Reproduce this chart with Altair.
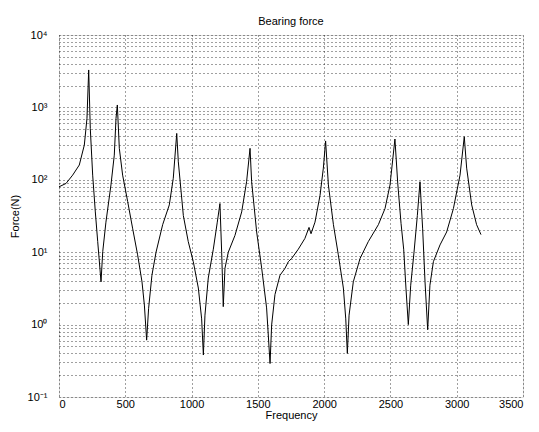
import altair as alt
import pandas as pd

# Data
freq = [0, 53, 103, 153, 191, 211, 224, 236, 254, 274, 292, 317, 330, 354, 392, 417, 430, 440,
        455, 480, 518, 556, 593, 626, 644, 661, 676, 701, 732, 782, 832, 862, 888, 900, 938,
        975, 1013, 1051, 1076, 1089, 1101, 1126, 1164, 1194, 1214, 1227, 1239, 1252, 1277,
        1327, 1378, 1415, 1441, 1453, 1491, 1529, 1566, 1592, 1604, 1629, 1667, 1705, 1730,
        1755, 1805, 1855, 1886, 1901, 1931, 1969, 1994, 2011, 2032, 2070, 2107, 2145, 2163,
        2175, 2188, 2220, 2271, 2333, 2409, 2459, 2497, 2534, 2555, 2580, 2600, 2617, 2635,
        2653, 2678, 2703, 2723, 2743, 2761, 2781, 2798, 2824, 2874, 2924, 2975, 3025, 3057,
        3075, 3113, 3150, 3183]
force = [80, 89, 116, 160, 302, 706, 3290, 513, 116, 36, 14, 3.9, 10.2, 26, 85, 219, 706, 1080,
         272, 116, 50, 21, 9.2, 3.9, 1.86, 0.61, 1.68, 4.8, 10, 24, 45, 105, 437, 177, 32,
         14, 7.4, 3.2, 1.2, 0.38, 1.35, 4.4, 11, 26, 47, 10, 1.77, 6, 10,
         17, 36, 94, 272, 94, 19, 6, 1.7, 0.29, 0.99, 2.6, 4.8, 6, 7.4,
         8.2, 11, 15.5, 22, 18, 26, 61, 145, 344, 85, 24, 9.2, 3.2, 1.2,
         0.40, 1.35, 3.9, 8.2, 14, 24, 40, 85, 366, 90, 25, 11, 3.2, 1.0,
         3.5, 10, 32, 94, 21, 3.9, 0.85, 3.5, 7.4, 12.6, 19, 40, 116, 394,
         145, 45, 24, 17.5]

x_ticks = [0, 500, 1000, 1500, 2000, 2500, 3000, 3500]
decades = [0.1, 1, 10, 100, 1000, 10000]
decade_labels = ["10⁻¹", "10⁰", "10¹", "10²", "10³", "10⁴"]
y_grid_values = [m * d for d in decades[:-1] for m in range(1, 10)] + [10000]

df = pd.DataFrame({"Frequency": freq, "Force": force})

label_expr = " : ".join(
    [f"abs(datum.value - {d}) < {d} * 1e-6 ? '{lab}'" for d, lab in zip(decades, decade_labels)]
) + " : ''"

FONT = "Liberation Sans"

chart = alt.Chart(df).mark_line(color="black", strokeWidth=1, clip=True).encode(
    x=alt.X("Frequency:Q",
            scale=alt.Scale(domain=[0, 3500], nice=False, zero=False),
            axis=alt.Axis(values=x_ticks, title="Frequency", grid=True,
                          gridDash=[1, 3], gridColor="#000", gridOpacity=0.75,
                          ticks=False, labelPadding=1, labelFontSize=11,
                          titleFontSize=11, titleFontWeight="normal", titlePadding=0,
                          labelFont=FONT, titleFont=FONT, labelColor="#000",
                          titleColor="#000", domain=False, format="d",
                          labelOverlap=False)),
    y=alt.Y("Force:Q",
            scale=alt.Scale(type="log", domain=[0.1, 10000], nice=False),
            axis=alt.Axis(values=y_grid_values, labelExpr=label_expr, title="Force(N)",
                          grid=True, gridDash=[1, 3], gridColor="#000", gridOpacity=0.75,
                          ticks=False, labelPadding=12, labelFontSize=11,
                          titleFontSize=11, titleFontWeight="normal", titlePadding=7,
                          labelFont=FONT, titleFont=FONT, labelColor="#000",
                          titleColor="#000", domain=False, labelOverlap=False)),
).properties(
    width=464,
    height=362,
    title=alt.TitleParams("Bearing force", fontSize=11, fontWeight="normal", font=FONT,
                          color="#000", offset=2),
    autosize=alt.AutoSizeParams(type="none"),
    padding={"left": 51, "top": 27, "right": 8, "bottom": 27},
).configure_view(
    stroke="#000", strokeWidth=1
).configure(background="white")

chart.save("out.html", embed_options={"renderer": "svg", "actions": False})
